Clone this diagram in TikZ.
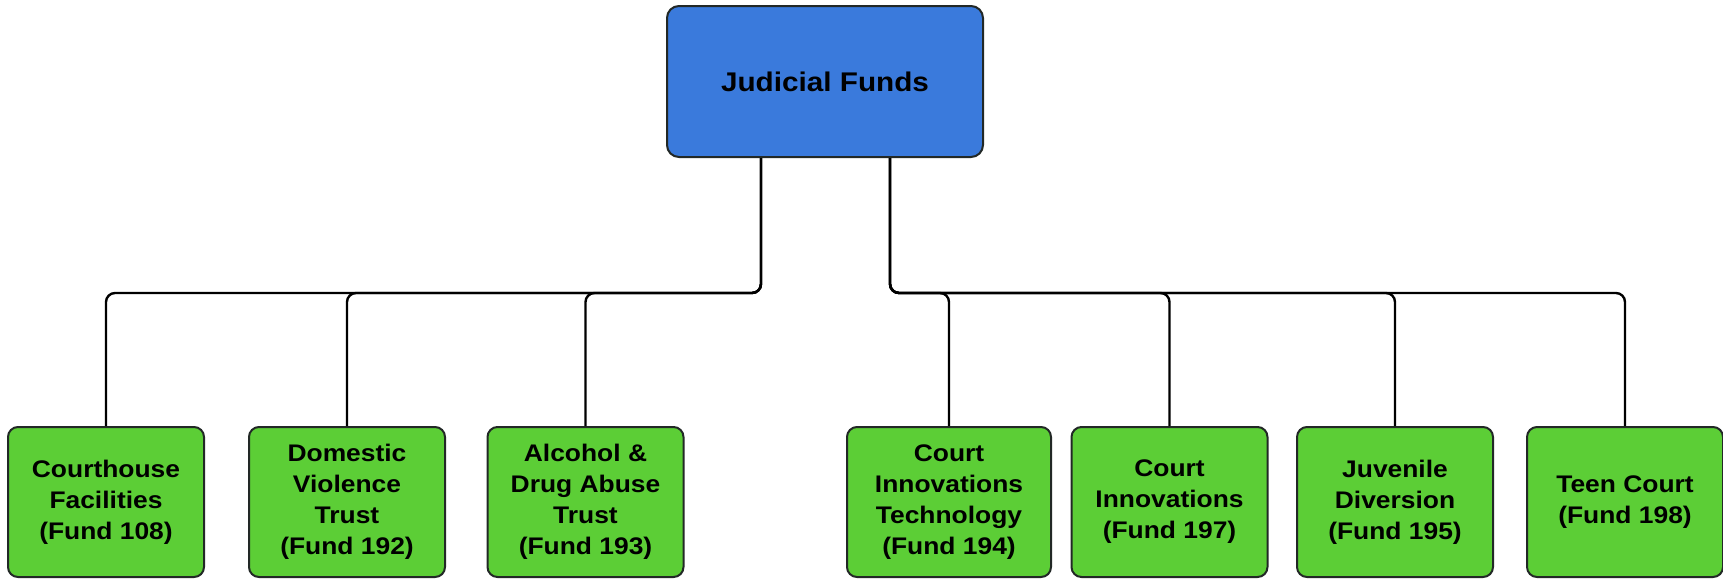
\documentclass[tikz,border=0pt]{standalone}
\usepackage{fontspec}
\setmainfont{Liberation Sans}
\newfontfamily\boxfont[FakeStretch=1.1]{Liberation Sans Bold}
\usetikzlibrary{calc}
\definecolor{rootblue}{RGB}{58,122,220}
\definecolor{leafgreen}{RGB}{92,206,54}
\definecolor{edgegray}{RGB}{34,40,38}
\begin{document}
\begin{tikzpicture}[x=1pt,y=-1pt,
  rootbox/.style={draw=edgegray,line width=2pt,fill=rootblue,rounded corners=12pt,
    minimum width=316pt,minimum height=151pt,inner sep=0pt,
    font=\boxfont\fontsize{27}{32}\selectfont,text=black},
  leafbox/.style={draw=edgegray,line width=2pt,fill=leafgreen,rounded corners=10pt,
    minimum width=196pt,minimum height=150pt,inner sep=0pt,align=center,
    font=\boxfont\fontsize{24}{31}\selectfont,text=black},
  conn/.style={draw=black,line width=2.4pt,rounded corners=9pt}]
\useasboundingbox (0,0) rectangle (1723,579);
\fill[white] (0,0) rectangle (1723,579);

\node[rootbox] (root) at (825,81.5) {Judicial Funds};

\node[leafbox] (f108) at (106,502) {Courthouse\\Facilities\\(Fund 108)};
\node[leafbox] (f192) at (347,502) {Domestic\\Violence\\Trust\\(Fund 192)};
\node[leafbox] (f193) at (585.5,502) {Alcohol \&\\Drug Abuse\\Trust\\(Fund 193)};
\node[leafbox,minimum width=204pt] (f194) at (949,502) {Court\\Innovations\\Technology\\(Fund 194)};
\node[leafbox] (f197) at (1169.5,502) {Court\\Innovations\\(Fund 197)};
\node[leafbox] (f195) at (1395,502) {Juvenile\\Diversion\\(Fund 195)};
\node[leafbox] (f198) at (1625,502) {Teen Court\\(Fund 198)};

% drop points under the root and the height of the bus line
\coordinate (dl) at ($(root.south)+(-64,0)$);
\coordinate (dr) at ($(root.south)+(65,0)$);
\coordinate (bus) at (0,293);

\foreach \c in {f108,f192,f193}
  \draw[conn] (dl) -- (dl |- bus) -- (\c.north |- bus) -- (\c.north);
\foreach \c in {f194,f197,f195,f198}
  \draw[conn] (dr) -- (dr |- bus) -- (\c.north |- bus) -- (\c.north);
\end{tikzpicture}
\end{document}
